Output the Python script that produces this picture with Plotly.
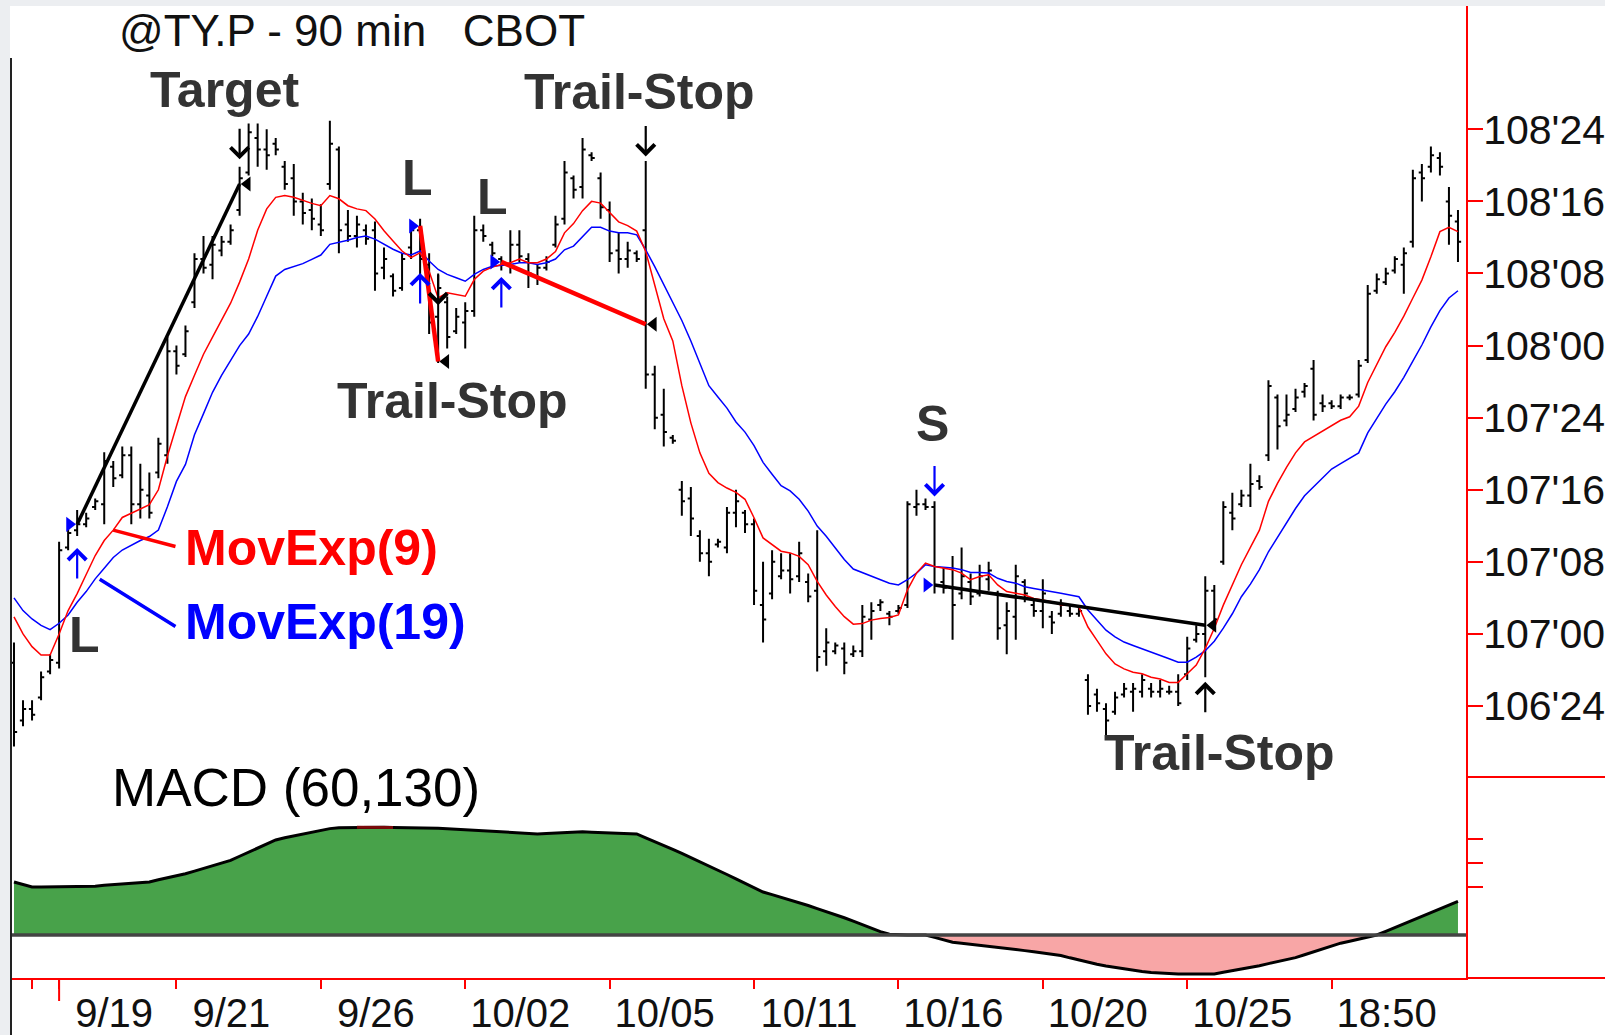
import plotly.graph_objects as go

# 90 min bars, index 0..160
bars = list(range(161))

highs = [106.97, 106.77, 106.77, 106.87, 106.93, 107.32, 107.37, 107.43, 107.42, 107.47,
         107.63, 107.60, 107.65, 107.65, 107.59, 107.56, 107.68, 108.03, 108.00, 108.07,
         108.32, 108.38, 108.38, 108.38, 108.42, 108.62, 108.77, 108.77, 108.75, 108.72,
         108.64, 108.63, 108.53, 108.51, 108.49, 108.78, 108.69, 108.47, 108.45, 108.42,
         108.43, 108.34, 108.25, 108.32, 108.40, 108.44, 108.32, 108.25, 108.17, 108.13,
         108.15, 108.45, 108.42, 108.36, 108.31, 108.40, 108.40, 108.32, 108.28, 108.31,
         108.45, 108.64, 108.59, 108.72, 108.67, 108.60, 108.50, 108.39, 108.36, 108.33,
         108.64, 107.93, 107.85, 107.69, 107.53, 107.51, 107.36, 107.33, 107.33, 107.44,
         107.50, 107.43, 107.40, 107.25, 107.29, 107.28, 107.28, 107.32, 107.21, 107.36,
         107.02, 106.97, 106.97, 106.96, 107.10, 107.11, 107.12, 107.08, 107.10, 107.46,
         107.50, 107.47, 107.46, 107.23, 107.27, 107.30, 107.21, 107.24, 107.25, 107.15,
         107.11, 107.24, 107.19, 107.12, 107.19, 107.08, 107.12, 107.10, 107.10, 106.86,
         106.81, 106.76, 106.80, 106.83, 106.83, 106.86, 106.83, 106.84, 106.82, 106.86,
         106.99, 107.03, 107.20, 107.17, 107.46, 107.49, 107.50, 107.59, 107.55, 107.88,
         107.83, 107.83, 107.85, 107.87, 107.95, 107.83, 107.81, 107.83, 107.83, 107.95,
         108.21, 108.25, 108.27, 108.31, 108.34, 108.61, 108.63, 108.69, 108.67, 108.55,
         108.47]

lows = [106.61, 106.68, 106.70, 106.77, 106.86, 106.88, 107.29, 107.34, 107.37, 107.43,
        107.38, 107.51, 107.54, 107.38, 107.40, 107.40, 107.54, 107.59, 107.90, 107.96,
        108.13, 108.25, 108.23, 108.31, 108.35, 108.45, 108.59, 108.62, 108.61, 108.66,
        108.54, 108.45, 108.42, 108.40, 108.38, 108.54, 108.32, 108.36, 108.34, 108.35,
        108.19, 108.23, 108.17, 108.19, 108.30, 108.23, 108.04, 107.94, 107.99, 108.04,
        107.99, 108.10, 108.36, 108.31, 108.26, 108.25, 108.29, 108.20, 108.21, 108.26,
        108.34, 108.42, 108.51, 108.51, 108.64, 108.44, 108.29, 108.25, 108.27, 108.29,
        107.85, 107.71, 107.65, 107.66, 107.41, 107.34, 107.25, 107.20, 107.30, 107.28,
        107.37, 107.35, 107.10, 106.97, 107.12, 107.19, 107.14, 107.18, 107.11, 106.87,
        106.89, 106.93, 106.86, 106.92, 106.92, 106.98, 107.08, 107.03, 107.07, 107.09,
        107.41, 107.43, 107.14, 107.14, 106.98, 107.12, 107.10, 107.13, 107.15, 106.98,
        106.93, 106.98, 107.11, 107.06, 107.02, 107.00, 107.06, 107.06, 107.06, 106.72,
        106.73, 106.65, 106.72, 106.78, 106.73, 106.78, 106.78, 106.78, 106.79, 106.75,
        106.84, 106.97, 106.85, 107.02, 107.24, 107.36, 107.44, 107.44, 107.50, 107.60,
        107.64, 107.72, 107.77, 107.82, 107.74, 107.77, 107.78, 107.78, 107.81, 107.82,
        107.94, 108.18, 108.21, 108.25, 108.18, 108.34, 108.50, 108.60, 108.59, 108.35,
        108.29]

opens = [106.90, 106.70, 106.74, 106.78, 106.87, 106.90, 107.30, 107.36, 107.38, 107.44,
         107.45, 107.58, 107.55, 107.62, 107.45, 107.48, 107.56, 107.62, 107.98, 107.97,
         108.15, 108.30, 108.28, 108.33, 108.36, 108.47, 108.60, 108.72, 108.68, 108.70,
         108.62, 108.58, 108.50, 108.47, 108.42, 108.56, 108.68, 108.42, 108.38, 108.40,
         108.40, 108.27, 108.24, 108.20, 108.34, 108.40, 108.28, 108.10, 108.15, 108.05,
         108.08, 108.12, 108.40, 108.35, 108.30, 108.28, 108.35, 108.30, 108.24, 108.27,
         108.35, 108.44, 108.58, 108.55, 108.66, 108.58, 108.47, 108.33, 108.30, 108.32,
         108.40, 107.90, 107.76, 107.68, 107.50, 107.47, 107.34, 107.28, 107.31, 107.30,
         107.42, 107.42, 107.38, 107.10, 107.14, 107.20, 107.22, 107.20, 107.18, 107.15,
         106.94, 106.94, 106.95, 106.93, 106.94, 107.05, 107.10, 107.07, 107.08, 107.10,
         107.44, 107.45, 107.44, 107.18, 107.16, 107.14, 107.18, 107.14, 107.19, 107.14,
         107.03, 107.06, 107.18, 107.10, 107.08, 107.06, 107.07, 107.08, 107.07, 106.84,
         106.79, 106.74, 106.73, 106.79, 106.80, 106.80, 106.81, 106.80, 106.80, 106.80,
         106.86, 106.98, 107.00, 107.15, 107.25, 107.42, 107.45, 107.48, 107.53, 107.62,
         107.82, 107.74, 107.78, 107.84, 107.92, 107.80, 107.80, 107.79, 107.82, 107.83,
         107.95, 108.19, 108.22, 108.26, 108.28, 108.36, 108.60, 108.62, 108.65, 108.50,
         108.43]

closes = [106.66, 106.74, 106.72, 106.85, 106.91, 107.29, 107.35, 107.38, 107.40, 107.46,
          107.60, 107.54, 107.62, 107.45, 107.50, 107.42, 107.66, 107.98, 107.93, 108.05,
          108.30, 108.27, 108.35, 108.36, 108.40, 108.58, 108.74, 108.68, 108.66, 108.68,
          108.56, 108.50, 108.46, 108.44, 108.40, 108.70, 108.40, 108.38, 108.42, 108.37,
          108.25, 108.30, 108.19, 108.30, 108.40, 108.30, 108.08, 108.20, 108.03, 108.10,
          108.12, 108.40, 108.38, 108.32, 108.28, 108.35, 108.31, 108.25, 108.27, 108.29,
          108.42, 108.60, 108.54, 108.68, 108.65, 108.48, 108.32, 108.30, 108.33, 108.30,
          107.90, 107.75, 107.70, 107.67, 107.46, 107.40, 107.28, 107.25, 107.32, 107.42,
          107.46, 107.38, 107.15, 107.05, 107.25, 107.22, 107.19, 107.28, 107.13, 106.92,
          106.97, 106.96, 106.90, 106.94, 107.06, 107.08, 107.11, 107.06, 107.09, 107.45,
          107.45, 107.44, 107.17, 107.16, 107.10, 107.20, 107.13, 107.20, 107.22, 107.02,
          107.08, 107.20, 107.14, 107.08, 107.14, 107.04, 107.10, 107.07, 107.08, 106.75,
          106.76, 106.70, 106.78, 106.81, 106.81, 106.84, 106.80, 106.81, 106.80, 106.76,
          106.95, 107.00, 107.15, 107.05, 107.44, 107.40, 107.48, 107.52, 107.51, 107.86,
          107.72, 107.76, 107.82, 107.86, 107.76, 107.79, 107.79, 107.82, 107.82, 107.93,
          108.18, 108.23, 108.25, 108.30, 108.32, 108.58, 108.58, 108.66, 108.62, 108.45,
          108.36]

ema9 = [107.059, 107.000, 106.956, 106.927, 106.927, 107.000, 107.081, 107.140, 107.206, 107.272,
        107.324, 107.360, 107.404, 107.419, 107.434, 107.448, 107.500, 107.617, 107.720, 107.823,
        107.897, 107.970, 108.029, 108.088, 108.147, 108.220, 108.300, 108.400, 108.474, 108.514,
        108.520, 108.514, 108.503, 108.493, 108.485, 108.520, 108.509, 108.485, 108.474, 108.468,
        108.439, 108.398, 108.363, 108.328, 108.305, 108.322, 108.258, 108.165, 108.183, 108.177,
        108.171, 108.229, 108.258, 108.272, 108.281, 108.287, 108.300, 108.287, 108.287, 108.300,
        108.326, 108.391, 108.423, 108.468, 108.500, 108.494, 108.462, 108.429, 108.416, 108.397,
        108.326, 108.210, 108.093, 108.016, 107.861, 107.732, 107.628, 107.557, 107.525, 107.506,
        107.491, 107.467, 107.403, 107.333, 107.310, 107.287, 107.281, 107.269, 107.240, 107.182,
        107.135, 107.095, 107.060, 107.034, 107.036, 107.048, 107.054, 107.057, 107.066, 107.153,
        107.211, 107.246, 107.234, 107.229, 107.223, 107.211, 107.188, 107.199, 107.205, 107.170,
        107.147, 107.141, 107.135, 107.123, 107.118, 107.112, 107.100, 107.100, 107.094, 107.024,
        106.978, 106.931, 106.896, 106.879, 106.867, 106.862, 106.850, 106.844, 106.832, 106.832,
        106.862, 106.892, 106.950, 107.020, 107.100, 107.170, 107.240, 107.300, 107.360, 107.460,
        107.522, 107.578, 107.628, 107.666, 107.684, 107.703, 107.722, 107.741, 107.753, 107.790,
        107.872, 107.934, 107.996, 108.046, 108.102, 108.165, 108.227, 108.308, 108.395, 108.410,
        108.395]

ema19 = [107.125, 107.081, 107.052, 107.030, 107.015, 107.037, 107.066, 107.110, 107.147, 107.191,
         107.228, 107.265, 107.291, 107.309, 107.324, 107.338, 107.360, 107.441, 107.529, 107.588,
         107.691, 107.764, 107.838, 107.897, 107.950, 108.000, 108.040, 108.101, 108.171, 108.241,
         108.264, 108.273, 108.284, 108.299, 108.314, 108.351, 108.357, 108.365, 108.375, 108.380,
         108.369, 108.351, 108.334, 108.320, 108.314, 108.328, 108.293, 108.264, 108.247, 108.235,
         108.223, 108.247, 108.264, 108.275, 108.277, 108.281, 108.287, 108.287, 108.281, 108.287,
         108.300, 108.332, 108.345, 108.378, 108.410, 108.410, 108.397, 108.391, 108.391, 108.384,
         108.332, 108.274, 108.210, 108.152, 108.087, 108.016, 107.938, 107.861, 107.822, 107.783,
         107.735, 107.700, 107.653, 107.595, 107.554, 107.514, 107.496, 107.467, 107.426, 107.374,
         107.339, 107.298, 107.258, 107.225, 107.213, 107.202, 107.188, 107.176, 107.170, 107.188,
         107.211, 107.240, 107.234, 107.231, 107.229, 107.223, 107.213, 107.213, 107.211, 107.193,
         107.182, 107.176, 107.164, 107.158, 107.153, 107.147, 107.141, 107.135, 107.129, 107.083,
         107.048, 107.013, 106.990, 106.972, 106.960, 106.949, 106.937, 106.926, 106.914, 106.902,
         106.902, 106.920, 106.942, 106.975, 107.020, 107.070, 107.129, 107.173, 107.223, 107.285,
         107.335, 107.385, 107.435, 107.479, 107.510, 107.541, 107.572, 107.591, 107.610, 107.628,
         107.697, 107.747, 107.797, 107.840, 107.890, 107.946, 108.002, 108.065, 108.121, 108.165,
         108.190]

macd = [0.221, 0.210, 0.200, 0.200, 0.200, 0.200, 0.200, 0.200, 0.200, 0.203,
        0.207, 0.210, 0.213, 0.216, 0.219, 0.221, 0.230, 0.238, 0.247, 0.255,
        0.266, 0.277, 0.289, 0.300, 0.311, 0.328, 0.345, 0.362, 0.379, 0.396,
        0.405, 0.413, 0.421, 0.429, 0.437, 0.443, 0.447, 0.448, 0.449, 0.449,
        0.449, 0.449, 0.448, 0.448, 0.447, 0.447, 0.447, 0.445, 0.443, 0.441,
        0.439, 0.437, 0.435, 0.434, 0.431, 0.429, 0.426, 0.424, 0.421, 0.423,
        0.425, 0.427, 0.429, 0.430, 0.428, 0.427, 0.425, 0.423, 0.422, 0.421,
        0.405, 0.390, 0.374, 0.357, 0.340, 0.323, 0.306, 0.289, 0.271, 0.252,
        0.234, 0.216, 0.197, 0.179, 0.168, 0.157, 0.147, 0.136, 0.123, 0.110,
        0.098, 0.085, 0.072, 0.058, 0.043, 0.029, 0.014, 0.003, 0.000, 0.000,
        0.000, 0.000, -0.010, -0.020, -0.030, -0.034, -0.038, -0.042, -0.047, -0.051,
        -0.055, -0.060, -0.065, -0.070, -0.075, -0.080, -0.085, -0.095, -0.105, -0.115,
        -0.122, -0.129, -0.135, -0.142, -0.149, -0.152, -0.156, -0.159, -0.162, -0.162,
        -0.162, -0.162, -0.162, -0.162, -0.155, -0.149, -0.142, -0.136, -0.128, -0.119,
        -0.111, -0.102, -0.094, -0.082, -0.070, -0.058, -0.046, -0.034, -0.026, -0.017,
        -0.008, 0.000, 0.015, 0.031, 0.046, 0.062, 0.077, 0.093, 0.109, 0.124,
        0.140]
# short stretch at the MACD top drawn in dark red
macd_peak_bars = [38, 39, 40, 41, 42]

# trades: entry / exit bar and price
trade_entry_bar = [7, 45, 54, 102]
trade_entry_px = [107.38, 108.415, 108.29, 107.17]
trade_exit_bar = [25, 47, 70, 132]
trade_exit_px = [108.56, 107.945, 108.074, 107.03]
trade_side = ["L", "L", "L", "S"]

# order arrows drawn on the chart (price at the arrow tip)
arrow_bar = [7, 25, 45, 47, 54, 70, 102, 132]
arrow_tip_px = [107.298, 108.646, 108.252, 108.140, 108.238, 108.656, 107.477, 106.834]
arrow_dir = ["up", "down", "up", "down", "up", "down", "down", "up"]
arrow_is_entry = [True, False, True, False, True, False, True, False]

price_ticks = [106.75, 107.0, 107.25, 107.5, 107.75, 108.0, 108.25, 108.5, 108.75]
price_tick_text = ["106'24", "107'00", "107'08", "107'16", "107'24",
                   "108'00", "108'08", "108'16", "108'24"]
date_tick_bar = [2, 5, 18, 34, 50, 66, 82, 98, 114, 130, 146]
date_tick_text = ["", "9/19", "9/21", "9/26", "10/02", "10/05", "10/11",
                  "10/16", "10/20", "10/25", "18:50"]
macd_ticks = [0.2, 0.3, 0.4]

RED = "#ff0000"
BLUE = "#0000ff"
FONT = "Liberation Sans, Arial, sans-serif"

# plot area in page pixels: x 12..1466, y 6..978, panes split at y 777
PANE_SPLIT = (978 - 777) / 972


def px_x(p):
    # page pixel -> paper x
    return (p - 12) / 1454


def px_y(p):
    # page pixel -> paper y
    return (978 - p) / 972


fig = go.Figure()

fig.add_trace(go.Ohlc(x=bars, open=opens, high=highs, low=lows, close=closes,
                      increasing=dict(line=dict(color="black", width=2)),
                      decreasing=dict(line=dict(color="black", width=2)),
                      tickwidth=0.35, hoverinfo="skip", xaxis="x", yaxis="y"))

fig.add_trace(go.Scatter(x=bars, y=ema19, mode="lines", line=dict(color=BLUE, width=1.5),
                         hoverinfo="skip", xaxis="x", yaxis="y"))
fig.add_trace(go.Scatter(x=bars, y=ema9, mode="lines", line=dict(color=RED, width=1.5),
                         hoverinfo="skip", xaxis="x", yaxis="y"))

# trade lines: red for losers, black for winners
for eb, ep, xb, xp, side in zip(trade_entry_bar, trade_entry_px, trade_exit_bar, trade_exit_px, trade_side):
    win = (xp > ep) if side == "L" else (xp < ep)
    fig.add_trace(go.Scatter(x=[eb, xb], y=[ep, xp], mode="lines",
                             line=dict(color="black" if win else RED, width=3.5 if win else 4.5),
                             hoverinfo="skip", xaxis="x", yaxis="y"))

fig.add_trace(go.Scatter(x=[b - 0.85 for b in trade_entry_bar], y=trade_entry_px, mode="markers",
                         marker=dict(symbol="triangle-right", size=13, color=BLUE),
                         hoverinfo="skip", xaxis="x", yaxis="y"))
fig.add_trace(go.Scatter(x=[b + 0.85 for b in trade_exit_bar], y=trade_exit_px, mode="markers",
                         marker=dict(symbol="triangle-left", size=13, color="black"),
                         hoverinfo="skip", xaxis="x", yaxis="y"))

# MACD pane
fig.add_trace(go.Scatter(x=bars, y=[max(v, 0) for v in macd], mode="lines", fill="tozeroy",
                         fillcolor="#48a24a", line=dict(width=0), hoverinfo="skip",
                         xaxis="x", yaxis="y2"))
fig.add_trace(go.Scatter(x=bars, y=[min(v, 0) for v in macd], mode="lines", fill="tozeroy",
                         fillcolor="#f8a6a6", line=dict(width=0), hoverinfo="skip",
                         xaxis="x", yaxis="y2"))
fig.add_trace(go.Scatter(x=bars, y=macd, mode="lines", line=dict(color="black", width=3),
                         hoverinfo="skip", xaxis="x", yaxis="y2"))
fig.add_trace(go.Scatter(x=macd_peak_bars, y=[macd[b] for b in macd_peak_bars], mode="lines",
                         line=dict(color="#7a0a0a", width=3), hoverinfo="skip",
                         xaxis="x", yaxis="y2"))

annotations = []

texts = [
    ("@TY.P - 90 min   CBOT", 117, 30, 44, "#111", False, "left"),
    ("Target", 224, 90, 50, "#333", True, "center"),
    ("Trail-Stop", 639, 92, 50, "#333", True, "center"),
    ("L", 417, 178, 50, "#333", True, "center"),
    ("L", 492, 197, 50, "#333", True, "center"),
    ("Trail-Stop", 452, 401, 50, "#333", True, "center"),
    ("S", 932, 424, 50, "#333", True, "center"),
    ("MovExp(9)", 183, 548, 50, RED, True, "left"),
    ("MovExp(19)", 183, 622, 50, BLUE, True, "left"),
    ("L", 84, 635, 50, "#333", True, "center"),
    ("Trail-Stop", 1219, 753, 50, "#333", True, "center"),
    ("MACD (60,130)", 110, 787, 53, "#000", False, "left"),
]
for t, x, y, s, c, b, xa in texts:
    annotations.append(dict(text="<b>%s</b>" % t if b else t, x=px_x(x), y=px_y(y),
                            xref="paper", yref="paper", xanchor=xa, yanchor="middle",
                            showarrow=False, font=dict(size=s, color=c, family=FONT)))

# entry / exit arrows: line with open chevron head
for b, p, d, entry in zip(arrow_bar, arrow_tip_px, arrow_dir, arrow_is_entry):
    annotations.append(dict(x=b, y=p, xref="x", yref="y", ax=0, ay=32 if d == "up" else -32,
                            text="", showarrow=True, arrowhead=4, arrowsize=1.6, arrowwidth=2.2,
                            arrowcolor=BLUE if entry else "black", standoff=0, startstandoff=0))

# leader lines for the moving average labels
annotations.append(dict(x=11, y=ema9[11], ax=18.06, ay=107.302, xref="x", yref="y",
                        axref="x", ayref="y", text="", showarrow=True, arrowhead=0,
                        arrowwidth=3.5, arrowcolor=RED, standoff=0, startstandoff=0))
annotations.append(dict(x=9.5, y=107.19, ax=18.06, ay=107.023, xref="x", yref="y",
                        axref="x", ayref="y", text="", showarrow=True, arrowhead=0,
                        arrowwidth=3.5, arrowcolor=BLUE, standoff=0, startstandoff=0))

shapes = [
    dict(type="rect", xref="paper", yref="paper", x0=px_x(0), x1=px_x(1605), y0=px_y(6), y1=px_y(0),
         fillcolor="#eceef1", line=dict(width=0), layer="below"),
    dict(type="rect", xref="paper", yref="paper", x0=px_x(0), x1=px_x(10), y0=px_y(1035), y1=px_y(0),
         fillcolor="#eceef1", line=dict(width=0), layer="below"),
    dict(type="line", xref="paper", yref="paper", x0=px_x(11), x1=px_x(11), y0=px_y(58), y1=px_y(1035),
         line=dict(color="#222", width=2)),
    dict(type="line", xref="paper", yref="paper", x0=1, x1=px_x(1605), y0=PANE_SPLIT, y1=PANE_SPLIT,
         line=dict(color=RED, width=2)),
    dict(type="line", xref="paper", yref="paper", x0=1, x1=px_x(1605), y0=0, y1=0,
         line=dict(color=RED, width=2)),
    # longer tick under the first dated session
    dict(type="line", xref="x", yref="paper", x0=date_tick_bar[1], x1=date_tick_bar[1],
         y0=0, y1=px_y(1001), line=dict(color=RED, width=2)),
    dict(type="line", xref="paper", yref="y2", x0=0, x1=1, y0=0, y1=0,
         line=dict(color="#444", width=3.5), layer="above"),
]

fig.update_layout(
    width=1605, height=1035,
    margin=dict(l=12, r=139, t=6, b=57, autoexpand=False),
    paper_bgcolor="white", plot_bgcolor="white",
    showlegend=False,
    font=dict(family=FONT, color="#111"),
    xaxis=dict(domain=[0, 1], anchor="y2", range=[-0.22, 160.89], showgrid=False, zeroline=False,
               automargin=False, showline=True, linecolor=RED, linewidth=2, ticks="outside",
               ticklen=9, tickwidth=2, tickcolor=RED, tickvals=date_tick_bar, ticktext=date_tick_text,
               tickfont=dict(size=40, color="#111"), ticklabelshift=55, ticklabelstandoff=-10,
               rangeslider=dict(visible=False)),
    yaxis=dict(domain=[PANE_SPLIT, 1], anchor="x", side="right", range=[106.504, 109.1775],
               showgrid=False, zeroline=False, automargin=False, showline=True, linecolor=RED,
               linewidth=2, ticks="outside", ticklen=15, tickwidth=2, tickcolor=RED,
               tickvals=price_ticks, ticktext=price_tick_text, ticklabelstandoff=-8,
               tickfont=dict(size=41, color="#111")),
    yaxis2=dict(domain=[0, PANE_SPLIT], anchor="x", side="right", range=[-0.179, 0.658],
                showgrid=False, zeroline=False, automargin=False, showline=True, linecolor=RED,
                linewidth=2, ticks="outside", ticklen=15, tickwidth=2, tickcolor=RED,
                tickvals=macd_ticks, showticklabels=False),
    annotations=annotations,
    shapes=shapes,
)

# the page's default body margin would offset the 1605x1035 figure inside the window
fig.write_html("out.html", config={"displayModeBar": False},
               post_script="document.body.style.margin = '0';")
